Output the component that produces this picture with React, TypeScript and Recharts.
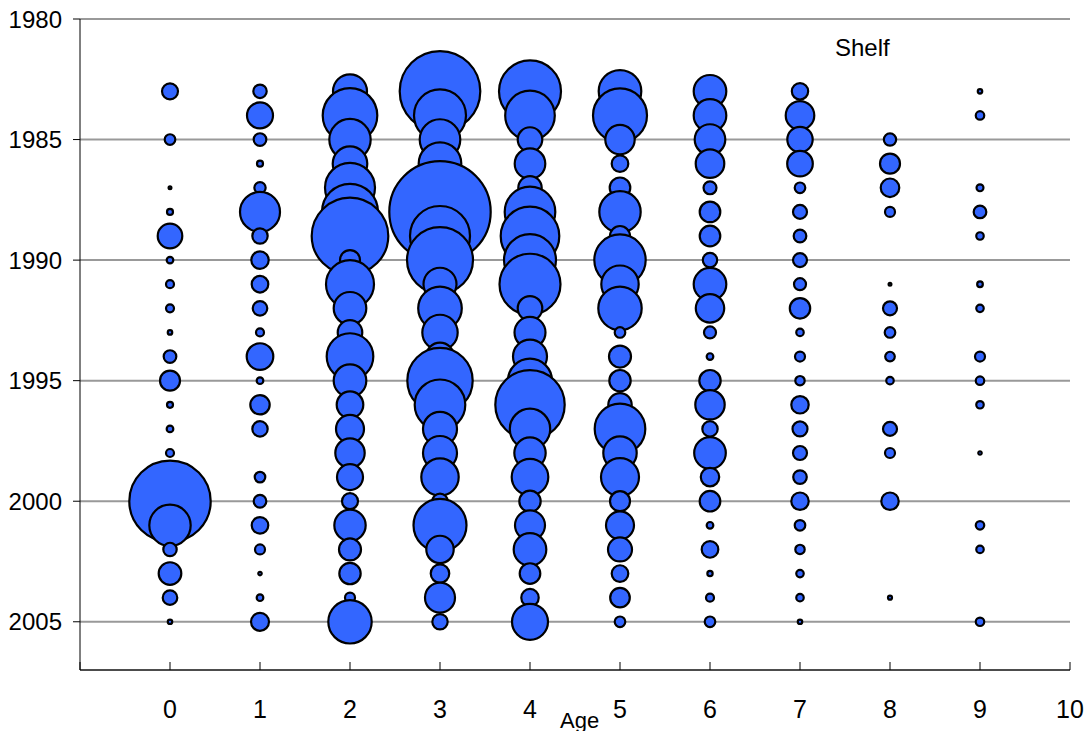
import { CartesianGrid, Scatter, ScatterChart, XAxis, YAxis, ZAxis } from 'recharts';

// survey years (rows) and ages (columns)
const years = [
    1983, 1984, 1985, 1986, 1987, 1988, 1989, 1990, 1991, 1992, 1993, 1994,
    1995, 1996, 1997, 1998, 1999, 2000, 2001, 2002, 2003, 2004, 2005,
];
const ages = [0, 1, 2, 3, 4, 5, 6, 7, 8, 9];

// relative abundance by age, one value per year (null = not caught)
const age0 = [6.4, null, 2.8, null, 0.2, 0.9, 15.1, 1.1, 1.6, 1.6, 0.5, 4.0, 10.0, 0.9, 1.1, 1.6, null, 165.6, 42.8, 4.5, 12.8, 5.3, 0.5];
const age1 = [4.5, 16.9, 4.0, 0.9, 3.2, 40.0, 5.9, 7.6, 6.9, 5.3, 1.6, 17.7, 1.1, 9.4, 5.9, null, 2.8, 4.0, 6.9, 2.5, 0.3, 1.1, 8.1];
const age2 = [28.9, 74.5, 42.8, 29.9, 62.5, 78.4, 146.7, 10.0, 57.6, 26.6, 15.1, 54.3, 26.6, 17.7, 19.6, 21.6, 16.9, 6.4, 24.6, 12.1, 11.4, 2.5, 47.1];
const age3 = [162.4, 67.6, 41.2, 45.4, 36.1, 257.0, 90.0, 108.9, 27.2, 47.5, 31.3, 19.6, 106.9, 64.0, 28.9, 28.9, 35.0, 5.9, 70.2, 18.8, 8.6, 22.5, 5.9];
const age4 = [96.1, 61.5, 15.1, 23.4, 13.7, 64.0, 85.8, 67.6, 93.0, 15.1, 24.0, 28.9, 48.4, 120.4, 40.8, 24.6, 33.5, 11.4, 22.5, 26.6, 10.6, 7.6, 32.4];
const age5 = [45.4, 72.9, 21.6, 6.9, 10.6, 42.8, 10.0, 66.0, 35.0, 47.1, 2.8, 12.1, 11.4, 13.7, 64.0, 27.9, 36.1, 10.0, 19.6, 14.4, 6.9, 9.6, 2.8];
const age6 = [26.6, 26.6, 23.4, 20.4, 4.2, 10.6, 10.6, 5.2, 26.6, 20.2, 3.6, 1.1, 11.4, 21.6, 5.9, 25.0, 8.5, 10.6, 1.1, 6.9, 0.7, 1.6, 2.8];
const age7 = [6.7, 20.4, 16.1, 16.4, 2.8, 4.9, 4.0, 4.9, 3.6, 10.4, 1.4, 2.5, 2.2, 7.6, 5.6, 4.9, 4.6, 7.6, 2.8, 2.2, 1.4, 1.4, 0.5];
const age8 = [null, null, 3.8, 10.0, 8.6, 2.5, null, null, 0.2, 4.9, 2.8, 2.3, 1.4, null, 4.9, 2.5, null, 7.6, null, null, null, 0.4, null];
const age9 = [0.5, 1.8, null, null, 1.2, 4.0, 1.4, null, 0.8, 1.4, null, 2.5, 1.8, 1.4, null, 0.3, null, null, 1.8, 1.4, null, null, 1.8];

const byAge = [age0, age1, age2, age3, age4, age5, age6, age7, age8, age9];

const xTicks = [-1, 0, 1, 2, 3, 4, 5, 6, 7, 8, 9, 10];
const yTicks = [1980, 1985, 1990, 1995, 2000, 2005];

const points = ages.flatMap((age, i) =>
    years.flatMap((year, j) => {
        const z = byAge[i][j];
        return z == null ? [] : [{ age, year, z }];
    }),
);

const FONT = '"Liberation Sans", Arial, sans-serif';

// ticks point up into the plot, labels sit well below the axis
function AgeTick({ x, y, payload }: any) {
    return (
        <g>
            <line x1={x} x2={x} y1={y} y2={y - 8} stroke="#000" strokeWidth={1} />
            {payload.value >= 0 && (
                <text x={x} y={y + 48} textAnchor="middle" fontSize={25} fontFamily={FONT} fill="#000">
                    {payload.value}
                </text>
            )}
        </g>
    );
}

export default function App() {
    return (
        <div className="shelf-chart" style={{ fontFamily: FONT }}>
            <style>{'.shelf-chart svg { overflow: visible; }'}</style>
            <ScatterChart width={1080} height={723} margin={{ top: 11, right: 18, bottom: 0, left: 0 }}>
                <CartesianGrid vertical={false} stroke="#999" strokeWidth={2} />
                <XAxis
                    type="number"
                    dataKey="age"
                    domain={[-1, 10]}
                    ticks={xTicks}
                    interval={0}
                    height={61}
                    tickSize={0}
                    tickMargin={0}
                    tickLine={false}
                    axisLine={{ stroke: '#000' }}
                    tick={<AgeTick />}
                />
                <YAxis
                    type="number"
                    dataKey="year"
                    domain={[1980, 2007]}
                    ticks={yTicks}
                    interval={0}
                    reversed
                    width={72}
                    tickSize={7}
                    tickMargin={11}
                    tickLine={{ stroke: '#000' }}
                    axisLine={{ stroke: '#000' }}
                    tick={{ fontSize: 24, fill: '#000', fontFamily: FONT }}
                />
                <ZAxis type="number" dataKey="z" domain={[0, 300]} range={[0, 9425]} />
                <Scatter data={points} fill="#3366ff" stroke="#000" strokeWidth={2.2} isAnimationActive={false} />
                <text x={827} y={48} fontSize={24} fontFamily={FONT} fill="#000">
                    Shelf
                </text>
                <text x={552} y={720} fontSize={22} fontFamily={FONT} fill="#000">
                    Age
                </text>
            </ScatterChart>
        </div>
    );
}
